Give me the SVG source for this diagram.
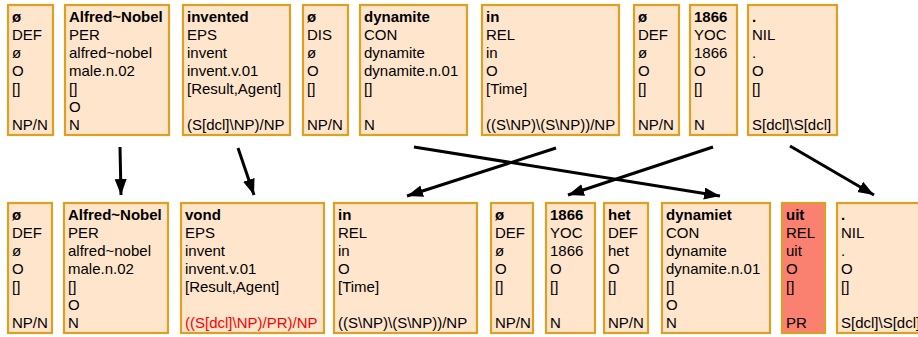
<svg xmlns="http://www.w3.org/2000/svg" width="918" height="337" viewBox="0 0 918 337">
<style>
.box{fill:#FFE5CC;stroke:#DBA123;stroke-width:2.2}
.hl{fill:#FA8070}
text{font-family:"Liberation Sans",Arial,sans-serif;font-size:15px;fill:#000}
.b{font-weight:bold}
.red{fill:#FF0000}
.arr{stroke:#000;stroke-width:3;fill:none;marker-end:url(#ah)}
</style>
<defs>
<marker id="ah" markerUnits="userSpaceOnUse" markerWidth="18" markerHeight="14" refX="16" refY="6" orient="auto">
<path d="M0,0 L16,6 L0,12 Z" fill="#000"/>
</marker>
</defs>
<rect width="918" height="337" fill="#fff"/>
<!-- top row -->
<g id="t1"><rect class="box" x="8" y="5" width="45" height="130"/>
<text x="12" y="22" class="b">ø</text><text x="12" y="40">DEF</text><text x="12" y="58">ø</text><text x="12" y="76">O</text><text x="12" y="94">[]</text><text x="12" y="130">NP/N</text></g>
<g id="t2"><rect class="box" x="65" y="5" width="104" height="130"/>
<text x="69" y="22" class="b">Alfred~Nobel</text><text x="69" y="40">PER</text><text x="69" y="58">alfred~nobel</text><text x="69" y="76">male.n.02</text><text x="69" y="94">[]</text><text x="69" y="112">O</text><text x="69" y="130">N</text></g>
<g id="t3"><rect class="box" x="183" y="5" width="107" height="130"/>
<text x="187" y="22" class="b">invented</text><text x="187" y="40">EPS</text><text x="187" y="58">invent</text><text x="187" y="76">invent.v.01</text><text x="187" y="94">[Result,Agent]</text><text x="187" y="130">(S[dcl]\NP)/NP</text></g>
<g id="t4"><rect class="box" x="303" y="5" width="45" height="130"/>
<text x="307" y="22" class="b">ø</text><text x="307" y="40">DIS</text><text x="307" y="58">ø</text><text x="307" y="76">O</text><text x="307" y="94">[]</text><text x="307" y="130">NP/N</text></g>
<g id="t5"><rect class="box" x="360" y="5" width="107" height="130"/>
<text x="364" y="22" class="b">dynamite</text><text x="364" y="40">CON</text><text x="364" y="58">dynamite</text><text x="364" y="76">dynamite.n.01</text><text x="364" y="94">[]</text><text x="364" y="130">N</text></g>
<g id="t6"><rect class="box" x="482" y="5" width="137" height="130"/>
<text x="486" y="22" class="b">in</text><text x="486" y="40">REL</text><text x="486" y="58">in</text><text x="486" y="76">O</text><text x="486" y="94">[Time]</text><text x="486" y="130">((S\NP)\(S\NP))/NP</text></g>
<g id="t7"><rect class="box" x="634" y="5" width="45" height="130"/>
<text x="638" y="22" class="b">ø</text><text x="638" y="40">DEF</text><text x="638" y="58">ø</text><text x="638" y="76">O</text><text x="638" y="94">[]</text><text x="638" y="130">NP/N</text></g>
<g id="t8"><rect class="box" x="690" y="5" width="47" height="130"/>
<text x="694" y="22" class="b">1866</text><text x="694" y="40">YOC</text><text x="694" y="58">1866</text><text x="694" y="76">O</text><text x="694" y="94">[]</text><text x="694" y="130">N</text></g>
<g id="t9"><rect class="box" x="748" y="5" width="89" height="130"/>
<text x="752" y="22" class="b">.</text><text x="752" y="40">NIL</text><text x="752" y="58">.</text><text x="752" y="76">O</text><text x="752" y="94">[]</text><text x="752" y="130">S[dcl]\S[dcl]</text></g>
<!-- bottom row -->
<g id="b1"><rect class="box" x="8" y="203" width="44" height="130"/>
<text x="12" y="220" class="b">ø</text><text x="12" y="238">DEF</text><text x="12" y="256">ø</text><text x="12" y="274">O</text><text x="12" y="292">[]</text><text x="12" y="328">NP/N</text></g>
<g id="b2"><rect class="box" x="64" y="203" width="104" height="130"/>
<text x="68" y="220" class="b">Alfred~Nobel</text><text x="68" y="238">PER</text><text x="68" y="256">alfred~nobel</text><text x="68" y="274">male.n.02</text><text x="68" y="292">[]</text><text x="68" y="310">O</text><text x="68" y="328">N</text></g>
<g id="b3"><rect class="box" x="181" y="203" width="143" height="130"/>
<text x="185" y="220" class="b">vond</text><text x="185" y="238">EPS</text><text x="185" y="256">invent</text><text x="185" y="274">invent.v.01</text><text x="185" y="292">[Result,Agent]</text><text x="185" y="328" class="red">((S[dcl]\NP)/PR)/NP</text></g>
<g id="b4"><rect class="box" x="334" y="203" width="143" height="130"/>
<text x="338" y="220" class="b">in</text><text x="338" y="238">REL</text><text x="338" y="256">in</text><text x="338" y="274">O</text><text x="338" y="292">[Time]</text><text x="338" y="328">((S\NP)\(S\NP))/NP</text></g>
<g id="b5"><rect class="box" x="491" y="203" width="42" height="130"/>
<text x="495" y="220" class="b">ø</text><text x="495" y="238">DEF</text><text x="495" y="256">ø</text><text x="495" y="274">O</text><text x="495" y="292">[]</text><text x="495" y="328">NP/N</text></g>
<g id="b6"><rect class="box" x="546" y="203" width="49" height="130"/>
<text x="550" y="220" class="b">1866</text><text x="550" y="238">YOC</text><text x="550" y="256">1866</text><text x="550" y="274">O</text><text x="550" y="292">[]</text><text x="550" y="328">N</text></g>
<g id="b7"><rect class="box" x="604" y="203" width="44" height="130"/>
<text x="608" y="220" class="b">het</text><text x="608" y="238">DEF</text><text x="608" y="256">het</text><text x="608" y="274">O</text><text x="608" y="292">[]</text><text x="608" y="328">NP/N</text></g>
<g id="b8"><rect class="box" x="662" y="203" width="108" height="130"/>
<text x="666" y="220" class="b">dynamiet</text><text x="666" y="238">CON</text><text x="666" y="256">dynamite</text><text x="666" y="274">dynamite.n.01</text><text x="666" y="292">[]</text><text x="666" y="310">O</text><text x="666" y="328">N</text></g>
<g id="b9"><rect class="box hl" x="782" y="203" width="43" height="130"/>
<text x="786" y="220" class="b">uit</text><text x="786" y="238">REL</text><text x="786" y="256">uit</text><text x="786" y="274">O</text><text x="786" y="292">[]</text><text x="786" y="328">PR</text></g>
<g id="b10"><rect class="box" x="837" y="203" width="100" height="130"/>
<text x="841" y="220" class="b">.</text><text x="841" y="238">NIL</text><text x="841" y="256">.</text><text x="841" y="274">O</text><text x="841" y="292">[]</text><text x="841" y="328">S[dcl]\S[dcl]</text></g>
<!-- connectors -->
<g id="connectors">
<line class="arr" x1="120" y1="147" x2="121" y2="195"/>
<line class="arr" x1="238" y1="148" x2="254" y2="195"/>
<line class="arr" x1="556" y1="148" x2="407" y2="196"/>
<line class="arr" x1="414" y1="147" x2="720" y2="196"/>
<line class="arr" x1="713" y1="147" x2="568" y2="195"/>
<line class="arr" x1="790" y1="146" x2="874" y2="195"/>
</g>
</svg>
